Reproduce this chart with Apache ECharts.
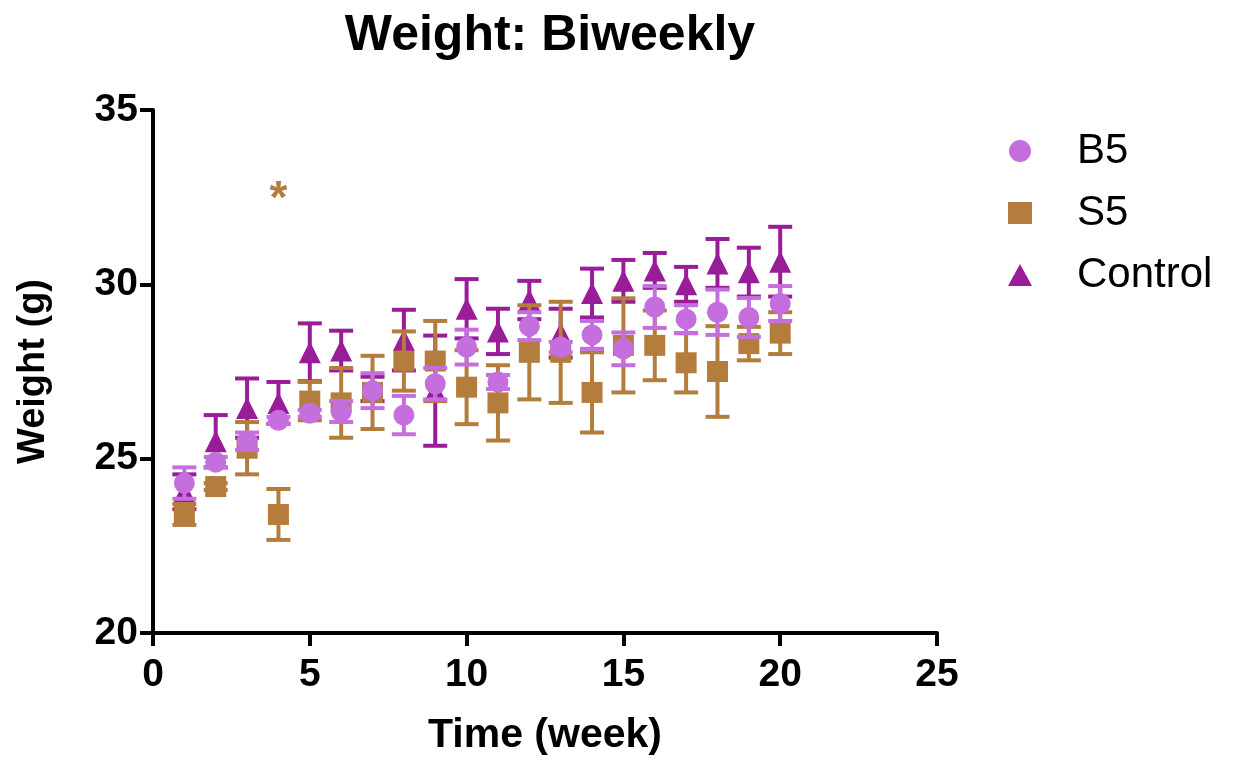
<!DOCTYPE html>
<html>
<head>
<meta charset="utf-8">
<title>Weight: Biweekly</title>
<script src="https://cdn.jsdelivr.net/npm/echarts/dist/echarts.min.js"></script>
<style>
  html, body { margin: 0; padding: 0; background: #fff; }
  #chart { width: 1236px; height: 764px; }
</style>
</head>
<body>
<div id="chart"></div>
<script>
const weeks = [1, 2, 3, 4, 5, 6, 7, 8, 9, 10, 11, 12, 13, 14, 15, 16, 17, 18, 19, 20]

// mean and SEM per group
const b5Mean = [24.3, 24.9, 25.5, 26.1, 26.3, 26.35, 26.95, 26.25, 27.15, 28.2, 27.2, 28.8, 28.2, 28.55, 28.15, 29.35, 29.0, 29.2, 29.05, 29.45]
const b5Sem = [0.45, 0.15, 0.25, 0.1, 0.1, 0.3, 0.5, 0.55, 0.45, 0.5, 0.2, 0.4, 0.15, 0.4, 0.47, 0.6, 0.4, 0.65, 0.56, 0.5]
const s5Mean = [23.4, 24.2, 25.3, 23.4, 26.65, 26.6, 26.9, 27.8, 27.8, 27.05, 26.6, 28.05, 28.05, 26.9, 28.25, 28.25, 27.75, 27.5, 28.3, 28.6]
const s5Sem = [0.3, 0.1, 0.75, 0.73, 0.55, 1.0, 1.05, 0.85, 1.15, 1.06, 1.08, 1.35, 1.45, 1.15, 1.35, 1.0, 0.85, 1.3, 0.48, 0.6]
const ctrlMean = [24.05, 25.5, 26.45, 26.6, 28.05, 28.1, 27.0, 28.4, 26.95, 29.3, 28.65, 29.55, 28.6, 29.75, 30.1, 30.4, 30.0, 30.6, 30.35, 30.65]
const ctrlSem = [0.5, 0.75, 0.85, 0.6, 0.83, 0.57, 0.35, 0.87, 1.58, 0.85, 0.65, 0.55, 0.7, 0.7, 0.6, 0.5, 0.5, 0.7, 0.7, 1.0]

// significance marker (S5 vs control)
const sigWeeks = [4]
const sigY = [32.4]

const xTicks = [0, 5, 10, 15, 20, 25]
const yTicks = [20, 25, 30, 35]

const FONT = '"Liberation Sans", Arial, Helvetica, sans-serif'
const C_B5 = '#c56fdf'
const C_S5 = '#b47c3d'
const C_CTRL = '#991c99'

function points(mean) {
  return weeks.map((w, i) => [w, mean[i]])
}

function bars(mean, sem) {
  return weeks.map((w, i) => [w, mean[i], sem[i]])
}

function errorBar(color) {
  return function (params, api) {
    const x = api.value(0)
    const m = api.value(1)
    const e = api.value(2)
    const top = api.coord([x, m + e])
    const bot = api.coord([x, m - e])
    const half = 12
    const style = { stroke: color, lineWidth: 4 }
    return {
      type: 'group',
      children: [
        { type: 'line', shape: { x1: top[0], y1: top[1], x2: bot[0], y2: bot[1] }, style },
        { type: 'line', shape: { x1: top[0] - half, y1: top[1], x2: top[0] + half, y2: top[1] }, style },
        { type: 'line', shape: { x1: bot[0] - half, y1: bot[1], x2: bot[0] + half, y2: bot[1] }, style }
      ]
    }
  }
}

function errSeries(name, color, mean, sem, z) {
  return {
    name: name,
    type: 'custom',
    renderItem: errorBar(color),
    data: bars(mean, sem),
    encode: { x: 0, y: 1 },
    z: z,
    silent: true
  }
}

function dotSeries(name, color, symbol, size, mean, z) {
  return {
    name: name,
    type: 'scatter',
    symbol: symbol,
    symbolSize: size,
    itemStyle: { color: color, opacity: 1 },
    data: points(mean),
    z: z
  }
}

const chart = echarts.init(document.getElementById('chart'))

const s5Dots = dotSeries('S5', C_S5, 'rect', 21, s5Mean, 5)
s5Dots.markPoint = {
  symbol: 'circle',
  symbolSize: 0,
  label: { show: true, formatter: '*', color: C_S5, fontSize: 46, fontWeight: 'bold', fontFamily: FONT },
  data: sigWeeks.map((w, i) => ({ coord: [w, sigY[i]] }))
}

chart.setOption({
  animation: false,
  backgroundColor: '#fff',
  title: {
    text: 'Weight: Biweekly',
    left: 545,
    textAlign: 'center',
    top: 6,
    textStyle: { fontFamily: FONT, fontSize: 50, fontWeight: 'bold', color: '#000' }
  },
  legend: {
    orient: 'vertical',
    left: 1003,
    top: 125,
    itemWidth: 24,
    itemHeight: 22,
    itemGap: 20,
    data: [
      { name: 'B5', icon: 'circle' },
      { name: 'S5', icon: 'rect' },
      { name: 'Control', icon: 'triangle' }
    ],
    textStyle: { fontFamily: FONT, fontSize: 42, color: '#000', padding: [0, 0, 0, 40] }
  },
  grid: { left: 153, right: 299, top: 110, bottom: 131 },
  xAxis: {
    type: 'value',
    min: xTicks[0],
    max: xTicks[xTicks.length - 1],
    interval: 5,
    name: 'Time (week)',
    nameLocation: 'middle',
    nameGap: 82,
    nameTextStyle: { fontFamily: FONT, fontSize: 41, fontWeight: 'bold', color: '#000' },
    axisLine: { lineStyle: { color: '#000', width: 4 } },
    axisTick: { length: 13, lineStyle: { color: '#000', width: 4 } },
    axisLabel: { margin: 23, fontFamily: FONT, fontSize: 39, fontWeight: 'bold', color: '#000' },
    splitLine: { show: false }
  },
  yAxis: {
    type: 'value',
    min: yTicks[0],
    max: yTicks[yTicks.length - 1],
    interval: 5,
    name: 'Weight (g)',
    nameLocation: 'middle',
    nameGap: 100,
    nameTextStyle: { fontFamily: FONT, fontSize: 38, fontWeight: 'bold', color: '#000' },
    axisLine: { show: true, lineStyle: { color: '#000', width: 4 } },
    axisTick: { show: true, length: 13, lineStyle: { color: '#000', width: 4 } },
    axisLabel: { margin: 15, fontFamily: FONT, fontSize: 39, fontWeight: 'bold', color: '#000' },
    splitLine: { show: false }
  },
  series: [
    errSeries('Control SEM', C_CTRL, ctrlMean, ctrlSem, 2),
    dotSeries('Control', C_CTRL, 'triangle', 22, ctrlMean, 3),
    errSeries('S5 SEM', C_S5, s5Mean, s5Sem, 4),
    s5Dots,
    errSeries('B5 SEM', C_B5, b5Mean, b5Sem, 6),
    dotSeries('B5', C_B5, 'circle', 21, b5Mean, 7)
  ]
})
</script>
</body>
</html>
